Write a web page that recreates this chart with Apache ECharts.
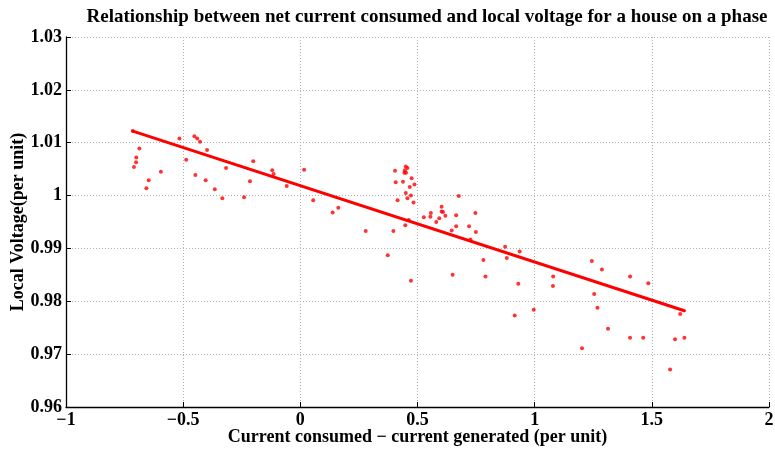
<!DOCTYPE html>
<html>
<head>
<meta charset="utf-8">
<script src="https://cdn.jsdelivr.net/npm/echarts@6/dist/echarts.min.js"></script>
<style>
html,body{margin:0;padding:0;background:#fff;}
#chart{width:775px;height:451px;}
</style>
</head>
<body>
<div id="chart"></div>
<script>
// Net current (consumed - generated), per unit
const currentNet = [
  -0.715, -0.687, -0.700, -0.701, -0.710, -0.647, -0.657, -0.595, -0.516, -0.452,
  -0.440, -0.428, -0.398, -0.487, -0.448, -0.404, -0.365, -0.333, -0.317, -0.240,
  -0.215, -0.201, -0.120, -0.114, -0.058, 0.016, 0.055, 0.138, 0.162, 0.279,
  0.373, 0.397, 0.404, 0.407, 0.415, 0.438, 0.450, 0.457, 0.446, 0.444,
  0.451, 0.475, 0.487, 0.467, 0.450, 0.457, 0.472, 0.483, 0.463, 0.448,
  0.472, 0.527, 0.555, 0.557, 0.580, 0.593, 0.603, 0.603, 0.609, 0.619,
  0.646, 0.650, 0.665, 0.665, 0.676, 0.720, 0.726, 0.747, 0.749, 0.781,
  0.790, 0.874, 0.881, 0.936, 0.930, 0.915, 0.996, 1.079, 1.078, 1.202,
  1.244, 1.287, 1.254, 1.268, 1.313, 1.407, 1.407, 1.463, 1.485, 1.578,
  1.599, 1.621, 1.639
];
// Local voltage, per unit
const localVoltage = [
  1.0122, 1.0089, 1.0072, 1.0063, 1.0054, 1.0029, 1.0014, 1.0045, 1.0108, 1.0112,
  1.0108, 1.0102, 1.0086, 1.0068, 1.0039, 1.0029, 1.0012, 0.9995, 1.0052, 0.9997,
  1.0027, 1.0065, 1.0048, 1.0041, 1.0018, 1.0049, 0.9991, 0.9968, 0.9977, 0.9933,
  0.9887, 0.9933, 1.0047, 1.0025, 0.9991, 1.0026, 1.0055, 1.0052, 1.0048, 1.0043,
  1.0043, 1.0033, 1.0021, 1.0016, 1.0005, 0.9995, 1.0000, 0.9987, 0.9954, 0.9944,
  0.9839, 0.9959, 0.9960, 0.9967, 0.9950, 0.9957, 0.9979, 0.9970, 0.9969, 0.9962,
  0.9934, 0.9850, 0.9942, 0.9963, 0.9999, 0.9942, 0.9917, 0.9967, 0.9931, 0.9878,
  0.9847, 0.9903, 0.9882, 0.9894, 0.9833, 0.9773, 0.9784, 0.9847, 0.9829, 0.9711,
  0.9876, 0.9860, 0.9814, 0.9788, 0.9748, 0.9847, 0.9731, 0.9731, 0.9834, 0.9671,
  0.9728, 0.9776, 0.9731
];
// Least-squares fit line end points
const fitX = [-0.715, 1.639];
const fitY = [1.0122, 0.9782];

const xTicks = [-1, -0.5, 0, 0.5, 1, 1.5, 2];
const yTicks = [0.96, 0.97, 0.98, 0.99, 1, 1.01, 1.02, 1.03];

const serif = '"Liberation Serif", "DejaVu Serif", serif';
const labelStyle = { fontFamily: serif, fontWeight: 'bold', fontSize: 18, color: '#000' };
const gridDots = { show: true, lineStyle: { color: '#b0b0b0', type: [1, 2], width: 1 } };

const chart = echarts.init(document.getElementById('chart'), null, { renderer: 'canvas' });
chart.setOption({
  animation: false,
  backgroundColor: '#fff',
  title: {
    text: 'Relationship between net current consumed and local voltage for a house on a phase',
    left: 422, top: 3, textAlign: 'center',
    textStyle: { fontFamily: serif, fontWeight: 'bold', fontSize: 19, color: '#000' }
  },
  grid: { left: 66, right: 6, top: 37, bottom: 44, containLabel: false, outerBoundsMode: 'none' },
  xAxis: {
    type: 'value', min: xTicks[0], max: xTicks[xTicks.length - 1], interval: 0.5,
    name: 'Current consumed \u2212 current generated (per unit)',
    nameLocation: 'middle', nameGap: 21, nameMoveOverlap: false,
    nameTextStyle: labelStyle,
    axisLine: { show: true, onZero: false, lineStyle: { color: '#000', width: 1.3 } },
    axisTick: { show: true, inside: true, length: 5, lineStyle: { color: '#000' } },
    axisLabel: { ...labelStyle, margin: 4, formatter: v => String(v).replace('-', '\u2212') },
    splitLine: gridDots
  },
  yAxis: {
    type: 'value', min: yTicks[0], max: yTicks[yTicks.length - 1], interval: 0.01,
    name: 'Local Voltage(per unit)',
    nameLocation: 'middle', nameGap: 39, nameMoveOverlap: false,
    nameTextStyle: labelStyle,
    axisLine: { show: true, onZero: false, lineStyle: { color: '#000', width: 1.3 } },
    axisTick: { show: true, inside: true, length: 5, lineStyle: { color: '#000' } },
    axisLabel: { ...labelStyle, margin: 4, formatter: v => String(+v.toFixed(2)) },
    splitLine: gridDots
  },
  series: [
    {
      type: 'scatter',
      data: currentNet.map((x, i) => [x, localVoltage[i]]),
      symbol: 'circle', symbolSize: 4,
      itemStyle: { color: '#ff0000' },
      z: 3
    },
    {
      type: 'line',
      data: fitX.map((x, i) => [x, fitY[i]]),
      showSymbol: false,
      lineStyle: { color: '#ff0000', width: 3, cap: 'round' },
      z: 4
    }
  ]
});
</script>
</body>
</html>
